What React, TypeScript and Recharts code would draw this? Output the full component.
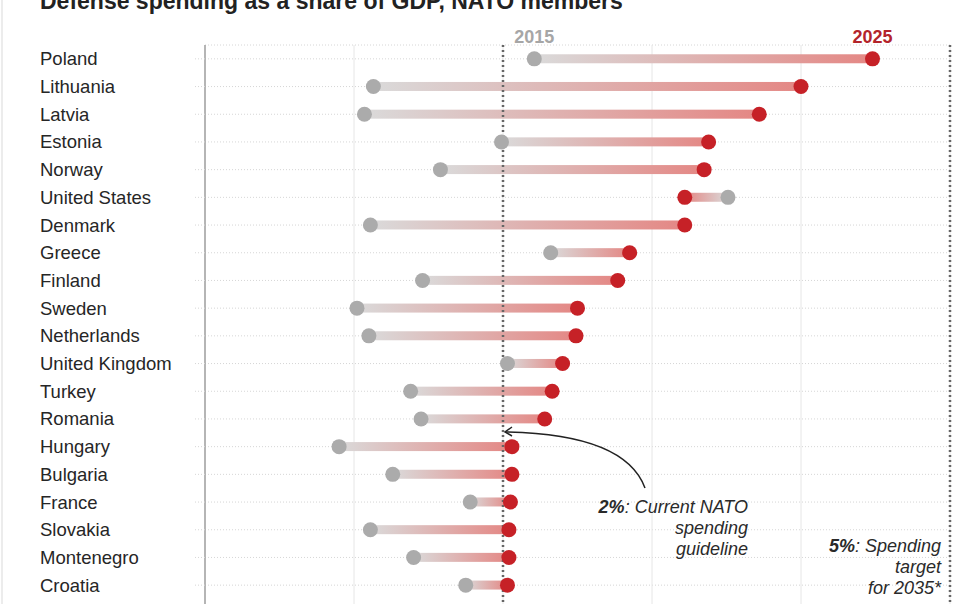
import React from 'react';
import {
  ComposedChart, Bar, Line, XAxis, YAxis, CartesianGrid, ReferenceLine, LabelList,
} from 'recharts';

// Defense spending, % of GDP
const countries = [
  'Poland', 'Lithuania', 'Latvia', 'Estonia', 'Norway', 'United States', 'Denmark',
  'Greece', 'Finland', 'Sweden', 'Netherlands', 'United Kingdom', 'Turkey', 'Romania',
  'Hungary', 'Bulgaria', 'France', 'Slovakia', 'Montenegro', 'Croatia',
];
const spend2015 = [2.21, 1.13, 1.07, 1.99, 1.58, 3.51, 1.11, 2.32, 1.46, 1.02, 1.1, 2.03, 1.38, 1.45, 0.9, 1.26, 1.78, 1.11, 1.4, 1.75];
const spend2025 = [4.48, 4.0, 3.72, 3.38, 3.35, 3.22, 3.22, 2.85, 2.77, 2.5, 2.49, 2.4, 2.33, 2.28, 2.06, 2.06, 2.05, 2.04, 2.04, 2.03];
const xTicks = [0, 1, 2, 3, 4, 5];

const data = countries.map((country, i) => ({
  country,
  y2015: spend2015[i],
  y2025: spend2025[i],
  range: [Math.min(spend2015[i], spend2025[i]), Math.max(spend2015[i], spend2025[i])],
}));

const FONT = '"Liberation Sans", Arial, Helvetica, sans-serif';
const RED = '#c62127';
const GREY = '#ababab';

const CountryTick = ({ y, payload }: any) => (
  <text x={40} y={y} dy={6.5} fontSize={18.5} fill="#262626" fontFamily={FONT}>
    {payload.value}
  </text>
);

const Connector = (props: any) => {
  const { x, y, width, height, payload } = props;
  const up = payload.y2025 >= payload.y2015;
  return (
    <rect
      x={x}
      y={y + height / 2 - 4.5}
      width={Math.max(width, 0)}
      height={9}
      fill={up ? 'url(#gradUp)' : 'url(#gradDown)'}
    />
  );
};

const yearLabel = (text: string, color: string) => (props: any) => {
  if (props.index !== 0) return null;
  return (
    <text x={props.x} y={props.y - 16} textAnchor="middle" fontSize={18} fontWeight="bold" fill={color} fontFamily={FONT}>
      {text}
    </text>
  );
};

const GuidelineNote = (props: any) => {
  const { x, y } = props.viewBox;
  const tx = x + 245;
  return (
    <g fontFamily={FONT} fontSize={18} fontStyle="italic" fill="#2a2a2a" textAnchor="end">
      <path d={`M ${x + 142} ${y + 443} Q ${x + 122} ${y + 389} ${x + 2} ${y + 387}`} fill="none" stroke="#222" strokeWidth={1.5} />
      <path d={`M ${x + 9} ${y + 382} L ${x + 2} ${y + 387} L ${x + 9} ${y + 391}`} fill="none" stroke="#222" strokeWidth={1.5} />
      <text x={tx} y={y + 468}>
        <tspan fontWeight="bold">2%</tspan>: Current NATO
      </text>
      <text x={tx} y={y + 489}>spending</text>
      <text x={tx} y={y + 510}>guideline</text>
    </g>
  );
};

const TargetNote = (props: any) => {
  const { x, y } = props.viewBox;
  const tx = x - 9;
  return (
    <g fontFamily={FONT} fontSize={18} fontStyle="italic" fill="#2a2a2a" textAnchor="end">
      <text x={tx} y={y + 507}>
        <tspan fontWeight="bold">5%</tspan>: Spending
      </text>
      <text x={tx} y={y + 528}>target</text>
      <text x={tx} y={y + 549}>for 2035*</text>
    </g>
  );
};

export default function App() {
  return (
    <div style={{ position: 'absolute', left: 0, top: 0, width: 960, height: 604, overflow: 'hidden', background: '#fff', fontFamily: FONT }}>
      <div style={{ position: 'absolute', left: 1, top: 0, width: 2, height: 604, background: '#ececec' }} />
      <svg width={960} height={20} style={{ position: 'absolute', left: 0, top: 0 }}>
        <text x={40} y={8.5} fontSize={23} fontWeight="bold" fill="#222" fontFamily={FONT}>
          Defense spending as a share of GDP, NATO members
        </text>
      </svg>
      <div style={{ position: 'absolute', left: 0, top: 0 }}>
        <ComposedChart
          width={960}
          height={612}
          data={data}
          layout="vertical"
          margin={{ top: 45, right: 10, bottom: 0, left: 0 }}
        >
          <defs>
            <linearGradient id="gradUp" x1="0" y1="0" x2="1" y2="0">
              <stop offset="0%" stopColor="#dadada" />
              <stop offset="100%" stopColor="#e48784" />
            </linearGradient>
            <linearGradient id="gradDown" x1="0" y1="0" x2="1" y2="0">
              <stop offset="0%" stopColor="#e48784" />
              <stop offset="100%" stopColor="#dadada" />
            </linearGradient>
          </defs>
          <CartesianGrid vertical={false} stroke="#d6d6d6" strokeDasharray="1 2" />
          <CartesianGrid horizontal={false} stroke="#e6e6e6" />
          <XAxis type="number" domain={[0, 5]} ticks={xTicks} hide />
          <YAxis
            type="category"
            dataKey="country"
            width={205}
            padding={{ top: 0, bottom: 13 }}
            tick={<CountryTick />}
            tickSize={10}
            tickLine={{ stroke: '#d6d6d6', strokeDasharray: '1 2' }}
            axisLine={{ stroke: '#a0a0a0', strokeWidth: 1.5 }}
          />
          <Bar dataKey="range" shape={<Connector />} isAnimationActive={false} />
          <ReferenceLine x={2} stroke="#666" strokeWidth={2.5} strokeDasharray="2 3" label={GuidelineNote} />
          <ReferenceLine x={5} stroke="#666" strokeWidth={2.5} strokeDasharray="2 3" label={TargetNote} />
          <Line
            dataKey="y2015"
            stroke="none"
            dot={{ r: 7.5, fill: GREY, stroke: 'none' }}
            activeDot={false}
            isAnimationActive={false}
          >
            <LabelList dataKey="y2015" content={yearLabel('2015', '#a6a6a6')} />
          </Line>
          <Line
            dataKey="y2025"
            stroke="none"
            dot={{ r: 7.5, fill: RED, stroke: 'none' }}
            activeDot={false}
            isAnimationActive={false}
          >
            <LabelList dataKey="y2025" content={yearLabel('2025', '#b3242b')} />
          </Line>
        </ComposedChart>
      </div>
    </div>
  );
}
